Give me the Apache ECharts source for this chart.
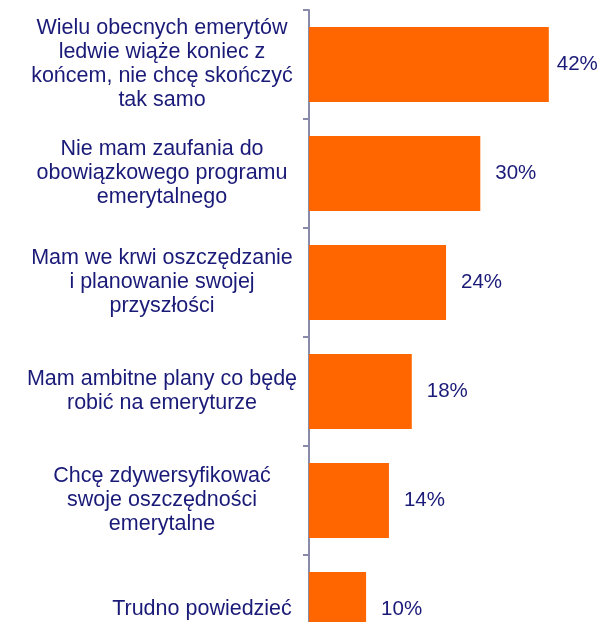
<!DOCTYPE html>
<html>
<head>
<meta charset="utf-8">
<script src="https://cdn.jsdelivr.net/npm/echarts@6/dist/echarts.min.js"></script>
<style>html,body{margin:0;padding:0;background:#fff;}#c{width:601px;height:622px;}</style>
</head>
<body>
<div id="c"></div>
<script>
const categories = [
  "Wielu obecnych emerytów\nledwie wiąże koniec z\nkońcem, nie chcę skończyć\ntak samo",
  "Nie mam zaufania do\nobowiązkowego programu\nemerytalnego",
  "Mam we krwi oszczędzanie\ni planowanie swojej\nprzyszłości",
  "Mam ambitne plany co będę\nrobić na emeryturze",
  "Chcę zdywersyfikować\nswoje oszczędności\nemerytalne",
  "Trudno powiedzieć"
];
const values = [42, 30, 24, 18, 14, 10];

const textColor = '#1a1a78';
const axisColor = '#8a8aaa';
const font = 'Liberation Sans, Arial, sans-serif';
const chart = echarts.init(document.getElementById('c'), null, {renderer: 'canvas'});
chart.setOption({
  animation: false,
  grid: {left: 309, top: 10, right: 6.5, bottom: -42, outerBoundsMode: 'none', containLabel: false},
  xAxis: {type: 'value', min: 0, max: 50, show: false},
  yAxis: {
    type: 'category',
    data: categories.map((c, i) => i === categories.length - 1
      ? {value: c, textStyle: {align: 'center', padding: [0, 0, 0, 80]}} : c),
    inverse: true,
    axisLine: {show: true, lineStyle: {color: axisColor, width: 2}},
    axisTick: {show: true, length: 6, lineStyle: {color: axisColor, width: 2}},
    axisLabel: {margin: 147, align: 'center', color: textColor, fontSize: 21.5, lineHeight: 24, fontFamily: font},
    splitLine: {show: false}
  },
  series: [{
    type: 'bar',
    data: values.map((v, i) => i === 0 ? {value: v, label: {distance: 8}} : v),
    barWidth: 75,
    itemStyle: {color: '#ff6600'},
    label: {show: true, position: 'right', distance: 15, formatter: '{c}%', color: textColor,
      fontSize: 20.5, fontFamily: font}
  }]
});
</script>
</body>
</html>
